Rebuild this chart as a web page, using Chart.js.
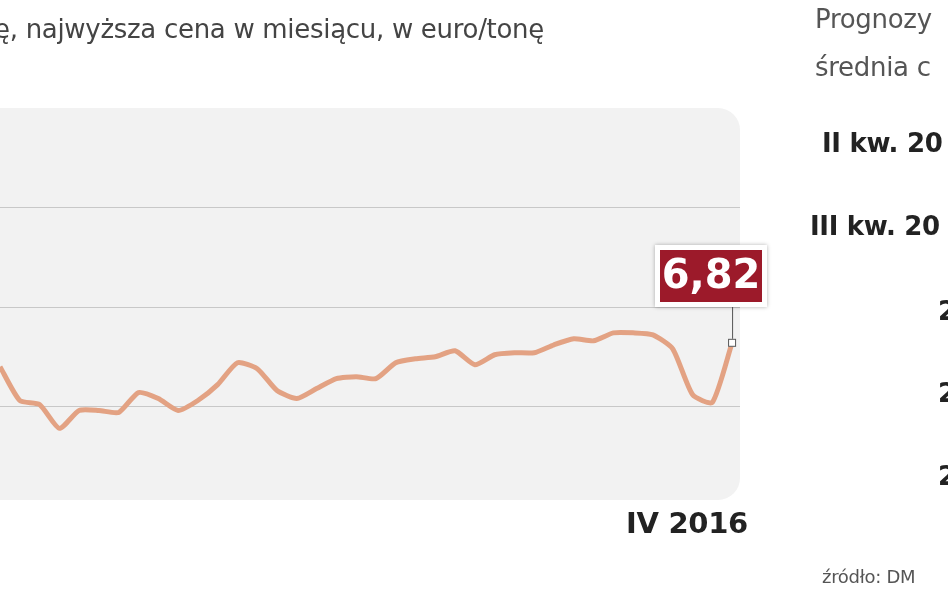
<!DOCTYPE html>
<html><head><meta charset="utf-8">
<script src="https://cdn.jsdelivr.net/npm/chart.js@4"></script>
<style>
body{margin:0;width:948px;height:593px;overflow:hidden;background:#fff;font-family:"DejaVu Sans",sans-serif;color:#333;position:relative}
canvas{position:absolute;left:0;top:0}
.t{position:absolute;white-space:nowrap;font-size:26px;letter-spacing:-0.3px}
</style></head><body>
<canvas id="c" width="948" height="593"></canvas>
<div class="t" style="left:-6px;top:14px;color:#444">ę, najwyższa cena w miesiącu, w euro/tonę</div>
<div class="t" style="left:815px;top:4px;color:#555">Prognozy</div>
<div class="t" style="left:815px;top:52px;color:#555">średnia c</div>
<div class="t" style="left:822px;top:128px;font-weight:bold;color:#222">II kw. 20</div>
<div class="t" style="left:810px;top:211px;font-weight:bold;color:#222">III kw. 20</div>
<div class="t" style="left:938px;top:296px;font-weight:bold;color:#222">20</div>
<div class="t" style="left:938px;top:378px;font-weight:bold;color:#222">20</div>
<div class="t" style="left:938px;top:461px;font-weight:bold;color:#222">20</div>
<div class="t" style="right:200px;top:506px;font-weight:bold;color:#222;font-size:29px">IV 2016</div>
<div class="t" style="left:822px;top:566px;font-size:18px;color:#555">źródło: DM</div>
<script>
// monthly high price, euro/tonne
const prices = [6.70,6.53,6.51,6.39,6.48,6.48,6.47,6.57,6.54,6.48,6.53,6.61,6.72,6.69,6.58,6.54,6.59,6.64,6.65,6.64,6.72,6.74,6.75,6.78,6.71,6.76,6.77,6.77,6.81,6.84,6.83,6.87,6.87,6.86,6.79,6.56,6.52,6.82];
const gridValues = [6.5, 7.0, 7.5];
const lastLabel = '6,82';

const points = prices.map((v, i) => ({ x: i, y: v }));
const last = points.length - 1;

const bgPlugin = {
  id: 'bg',
  beforeDraw(chart) {
    const { ctx, chartArea: a, scales: { y } } = chart;
    ctx.save();
    ctx.fillStyle = '#f2f2f2';
    ctx.beginPath();
    ctx.roundRect(a.left - 30, a.top, a.right - a.left + 30, a.bottom - a.top, 22);
    ctx.fill();
    ctx.strokeStyle = '#c8c8c8';
    ctx.lineWidth = 1;
    gridValues.forEach(v => {
      const py = Math.round(y.getPixelForValue(v)) + 0.5;
      ctx.beginPath(); ctx.moveTo(a.left, py); ctx.lineTo(a.right, py); ctx.stroke();
    });
    ctx.restore();
  },
  afterDatasetsDraw(chart) {
    const { ctx, scales: { x, y } } = chart;
    const px = x.getPixelForValue(last), py = y.getPixelForValue(prices[last]);
    ctx.save();
    ctx.strokeStyle = '#555'; ctx.lineWidth = 1;
    ctx.beginPath(); ctx.moveTo(px + 0.5, 300); ctx.lineTo(px + 0.5, py); ctx.stroke();
    ctx.fillStyle = '#fff'; ctx.strokeStyle = '#555';
    ctx.fillRect(px - 4, py - 4, 8, 8); ctx.strokeRect(px - 3.5, py - 3.5, 7, 7);
    ctx.fillStyle = '#fff';
    ctx.shadowColor = 'rgba(0,0,0,0.3)'; ctx.shadowBlur = 4;
    ctx.fillRect(655, 245, 112, 62);
    ctx.shadowBlur = 0;
    ctx.fillStyle = '#9c1a2a';
    ctx.fillRect(660, 250, 102, 52);
    ctx.fillStyle = '#fff';
    ctx.font = 'bold 40px "DejaVu Sans"'; ctx.textAlign = 'center'; ctx.textBaseline = 'middle';
    ctx.fillText(lastLabel, 711, 278);
    ctx.restore();
  }
};

new Chart(document.getElementById('c'), {
  type: 'line',
  data: { datasets: [{ data: points, borderColor: '#e3a283', borderWidth: 5, pointRadius: 0, tension: 0.2, borderJoinStyle: 'round' }] },
  options: {
    responsive: false, animation: false,
    layout: { padding: { left: 0, right: 208, top: 108, bottom: 93 } },
    plugins: { legend: { display: false }, tooltip: { enabled: false } },
    scales: {
      x: { type: 'linear', min: 0, max: 37.4, display: false },
      y: { min: 6.03, max: 8.0, display: false }
    }
  },
  plugins: [bgPlugin]
});
</script>
</body></html>
